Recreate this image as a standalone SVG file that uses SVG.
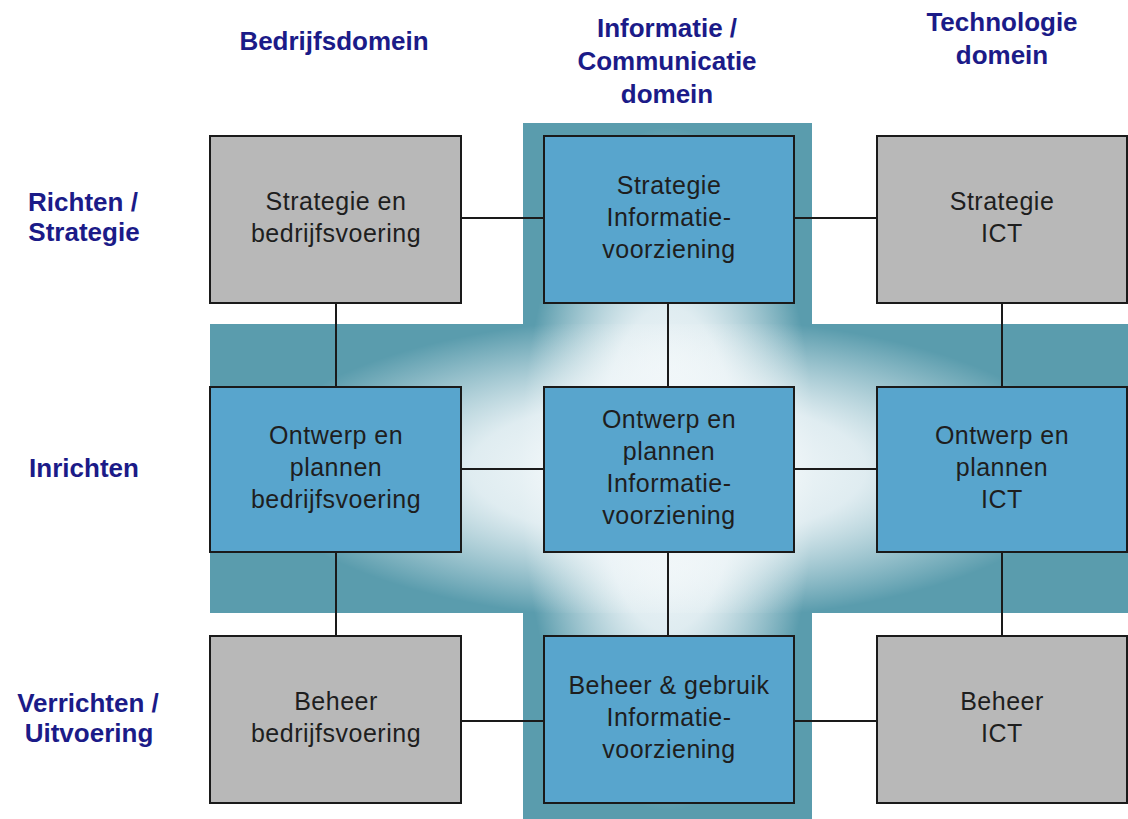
<svg xmlns="http://www.w3.org/2000/svg" width="1128" height="819" viewBox="0 0 1128 819">
<defs>
<radialGradient id="gv" gradientUnits="userSpaceOnUse" cx="668" cy="469" r="1" gradientTransform="translate(668 469) scale(155 360) translate(-668 -469)">
<stop offset="0" stop-color="#ffffff" stop-opacity="1"/>
<stop offset="0.45" stop-color="#eef5f8" stop-opacity="0.9"/>
<stop offset="0.95" stop-color="#ffffff" stop-opacity="0"/>
</radialGradient>
<radialGradient id="gh" gradientUnits="userSpaceOnUse" cx="668" cy="469" r="1" gradientTransform="translate(668 469) scale(440 160) translate(-668 -469)">
<stop offset="0" stop-color="#ffffff" stop-opacity="1"/>
<stop offset="0.45" stop-color="#eef5f8" stop-opacity="0.9"/>
<stop offset="0.95" stop-color="#ffffff" stop-opacity="0"/>
</radialGradient>
</defs>
<style>
.hd{font-family:"Liberation Sans",Arial,sans-serif;font-weight:bold;font-size:26px;fill:#1b1b88;text-anchor:middle}
.gray{fill:#b8b8b8;stroke:#1a1a1a;stroke-width:2}
.blue{fill:#58a5cd;stroke:#1a1a1a;stroke-width:2}
.tx{font-family:"Liberation Sans",Arial,sans-serif;font-size:25px;fill:#1e1e1e;text-anchor:middle;letter-spacing:0.5px}
.ln{stroke:#1a1a1a;stroke-width:2;fill:none}
</style>
<rect width="1128" height="819" fill="#ffffff"/>
<g id="background">
<rect x="523" y="123" width="289" height="696" fill="#5a9cad"/>
<rect x="210" y="324" width="918" height="289" fill="#5a9cad"/>
<rect x="523" y="123" width="289" height="696" fill="url(#gv)"/>
<rect x="210" y="324" width="918" height="289" fill="url(#gh)"/>
</g>
<g id="headings">
<text class="hd" x="334" y="50">Bedrijfsdomein</text>
<text class="hd" x="667" y="37">Informatie /</text>
<text class="hd" x="667" y="70">Communicatie</text>
<text class="hd" x="667" y="103">domein</text>
<text class="hd" x="1002" y="31">Technologie</text>
<text class="hd" x="1002" y="64">domein</text>
<text class="hd" x="83" y="211">Richten /</text>
<text class="hd" x="84" y="241">Strategie</text>
<text class="hd" x="84" y="477">Inrichten</text>
<text class="hd" x="88" y="712">Verrichten /</text>
<text class="hd" x="89" y="742">Uitvoering</text>
</g>
<g id="connectors">
<line class="ln" x1="461" y1="218" x2="544" y2="218"/>
<line class="ln" x1="794" y1="218" x2="877" y2="218"/>
<line class="ln" x1="461" y1="469" x2="544" y2="469"/>
<line class="ln" x1="794" y1="469" x2="877" y2="469"/>
<line class="ln" x1="461" y1="721" x2="544" y2="721"/>
<line class="ln" x1="794" y1="721" x2="877" y2="721"/>
<line class="ln" x1="336" y1="303" x2="336" y2="387"/>
<line class="ln" x1="336" y1="552" x2="336" y2="636"/>
<line class="ln" x1="668" y1="303" x2="668" y2="387"/>
<line class="ln" x1="668" y1="552" x2="668" y2="636"/>
<line class="ln" x1="1002" y1="303" x2="1002" y2="387"/>
<line class="ln" x1="1002" y1="552" x2="1002" y2="636"/>
</g>
<g id="n-strategie-bedrijf">
<rect class="gray" x="210" y="136" width="251" height="167"/>
<text class="tx" x="336" y="210">Strategie en</text>
<text class="tx" x="336" y="242">bedrijfsvoering</text>
</g>
<g id="n-strategie-iv">
<rect class="blue" x="544" y="136" width="250" height="167"/>
<text class="tx" x="669" y="194">Strategie</text>
<text class="tx" x="669" y="226">Informatie-</text>
<text class="tx" x="669" y="258">voorziening</text>
</g>
<g id="n-strategie-ict">
<rect class="gray" x="877" y="136" width="250" height="167"/>
<text class="tx" x="1002" y="210">Strategie</text>
<text class="tx" x="1002" y="242">ICT</text>
</g>
<g id="n-ontwerp-bedrijf">
<rect class="blue" x="210" y="387" width="251" height="165"/>
<text class="tx" x="336" y="444">Ontwerp en</text>
<text class="tx" x="336" y="476">plannen</text>
<text class="tx" x="336" y="508">bedrijfsvoering</text>
</g>
<g id="n-ontwerp-iv">
<rect class="blue" x="544" y="387" width="250" height="165"/>
<text class="tx" x="669" y="428">Ontwerp en</text>
<text class="tx" x="669" y="460">plannen</text>
<text class="tx" x="669" y="492">Informatie-</text>
<text class="tx" x="669" y="524">voorziening</text>
</g>
<g id="n-ontwerp-ict">
<rect class="blue" x="877" y="387" width="250" height="165"/>
<text class="tx" x="1002" y="444">Ontwerp en</text>
<text class="tx" x="1002" y="476">plannen</text>
<text class="tx" x="1002" y="508">ICT</text>
</g>
<g id="n-beheer-bedrijf">
<rect class="gray" x="210" y="636" width="251" height="167"/>
<text class="tx" x="336" y="710">Beheer</text>
<text class="tx" x="336" y="742">bedrijfsvoering</text>
</g>
<g id="n-beheer-iv">
<rect class="blue" x="544" y="636" width="250" height="167"/>
<text class="tx" x="669" y="694">Beheer &amp; gebruik</text>
<text class="tx" x="669" y="726">Informatie-</text>
<text class="tx" x="669" y="758">voorziening</text>
</g>
<g id="n-beheer-ict">
<rect class="gray" x="877" y="636" width="250" height="167"/>
<text class="tx" x="1002" y="710">Beheer</text>
<text class="tx" x="1002" y="742">ICT</text>
</g>
</svg>
